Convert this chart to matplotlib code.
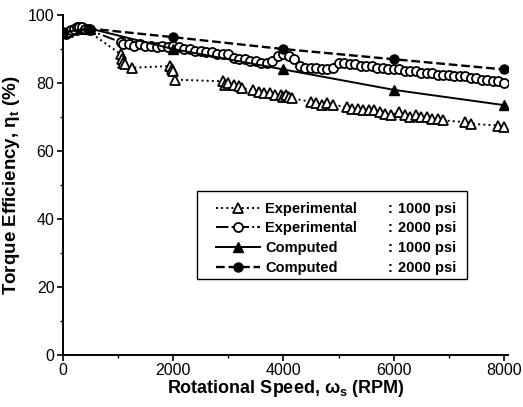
import matplotlib
matplotlib.use("Agg")
import matplotlib.pyplot as plt
import matplotlib.patches as patches
from matplotlib.ticker import MultipleLocator

plt.rcParams['font.family'] = ['Liberation Sans', 'DejaVu Sans']
plt.rcParams['mathtext.fontset'] = 'custom'
plt.rcParams['mathtext.rm'] = 'Liberation Sans'
plt.rcParams['mathtext.bf'] = 'Liberation Sans:bold'

# Experimental, 1000 psi
exp1000_rpm = [100, 200, 300, 400, 1050, 1080, 1100, 1130, 1250, 1950, 1980, 2000, 2030,
               2900, 2950, 3000, 3100, 3200, 3250, 3450, 3550, 3650, 3750, 3850, 3950,
               4000, 4050, 4100, 4150, 4500, 4600, 4700, 4800, 4900, 5150, 5250, 5350,
               5450, 5550, 5650, 5750, 5850, 5950, 6100, 6200, 6300, 6400, 6500, 6600,
               6700, 6800, 6900, 7300, 7400, 7900, 8000]
exp1000_eff = [95, 95.5, 96, 96, 88.5, 87, 86, 85.5, 84.5, 85, 84, 83.5, 81,
               80.5, 79.5, 80, 79.5, 79, 78.5, 78, 77.5, 77, 77, 76.5, 76.5,
               76, 76.5, 76, 75.5, 74.5, 74, 73.5, 74, 73.5, 73, 72.5, 72.5,
               72, 72, 72, 71.5, 71, 70.5, 71.5, 70.5, 70, 70.5, 70, 70,
               69.5, 69.5, 69, 68.5, 68, 67.5, 67]

# Experimental, 2000 psi
exp2000_rpm = [50, 100, 150, 200, 250, 300, 350, 400, 450, 500,
               1050, 1100, 1200, 1300, 1400, 1500, 1600, 1700, 1800, 1900, 2000,
               2100, 2200, 2300, 2400, 2500, 2600, 2700, 2800, 2900, 3000,
               3100, 3200, 3300, 3400, 3500, 3600, 3700, 3800, 3900, 4000,
               4100, 4200, 4300, 4400, 4500, 4600, 4700, 4800, 4900, 5000,
               5100, 5200, 5300, 5400, 5500, 5600, 5700, 5800, 5900, 6000,
               6100, 6200, 6300, 6400, 6500, 6600, 6700, 6800, 6900, 7000,
               7100, 7200, 7300, 7400, 7500, 7600, 7700, 7800, 7900, 8000]
exp2000_eff = [94.5, 95, 95.5, 96, 96.5, 96.5, 96.5, 96, 96, 95.5,
               92, 91.5, 91.5, 91, 91.5, 91, 91, 90.5, 91, 90.5, 91,
               90.5, 90, 90, 89.5, 89.5, 89, 89, 88.5, 88.5, 88.5,
               87.5, 87, 87, 86.5, 86.5, 86, 86, 86.5, 88, 88.5,
               88, 87, 85, 84.5, 84.5, 84.5, 84, 84, 84.5, 86,
               86, 85.5, 85.5, 85, 85, 85, 84.5, 84.5, 84, 84,
               84, 83.5, 83.5, 83.5, 83, 83, 83, 82.5, 82.5, 82.5,
               82, 82, 82, 81.5, 81.5, 81, 81, 80.5, 80.5, 80]

# Computed
comp_rpm = [0, 500, 2000, 4000, 6000, 8000]
comp1000_eff = [95, 96, 90, 84, 78, 73.5]
comp2000_eff = [95, 96, 93.5, 90, 87, 84]

names = ['Experimental', 'Experimental', 'Computed', 'Computed']
pressures = ['1000 psi', '2000 psi', '1000 psi', '2000 psi']

fig = plt.figure(figsize=(5.23, 4.07), dpi=100)
ax = fig.add_axes([0.12, 0.128, 0.852, 0.835])

ax.plot(exp1000_rpm, exp1000_eff, ':', color='black', lw=1.4, marker='^',
        mfc='white', mec='black', ms=7, mew=1.3, label=names[0])
ax.plot(exp2000_rpm, exp2000_eff, '-.', color='black', lw=1.4, marker='o',
        mfc='white', mec='black', ms=6.5, mew=1.3, label=names[1])
ax.plot(comp_rpm, comp1000_eff, '-', color='black', lw=1.4, marker='^',
        mfc='black', mec='black', ms=7, label=names[2])
ax.plot(comp_rpm, comp2000_eff, '--', color='black', lw=1.7, marker='o',
        mfc='black', mec='black', ms=6.5, label=names[3])

ax.set_xlim(0, 8080)
ax.set_ylim(0, 100)
ax.xaxis.set_major_locator(MultipleLocator(2000))
ax.xaxis.set_minor_locator(MultipleLocator(1000))
ax.yaxis.set_major_locator(MultipleLocator(20))
ax.yaxis.set_minor_locator(MultipleLocator(10))
ax.spines['top'].set_visible(False)
ax.spines['right'].set_visible(False)
for s in ('left', 'bottom'):
    ax.spines[s].set_linewidth(1.4)
ax.tick_params(which='major', direction='out', length=4, width=1.2, labelsize=11.5,
               pad=2)
ax.tick_params(which='minor', direction='out', length=2.5, width=1.0)

ax.set_xlabel(r'Rotational Speed, ω$_\mathbf{s}$ (RPM)', fontsize=13,
              fontweight='bold', labelpad=0)
ax.set_ylabel(r'Torque Efficiency, η$_\mathbf{t}$ (%)', fontsize=13.5,
              fontweight='bold', labelpad=4)

# legend frame drawn separately, entries without a frame
frame = patches.Rectangle((0.302, 0.224), 0.605, 0.258, transform=ax.transAxes,
                          facecolor='white', edgecolor='black', lw=1.0, zorder=5)
ax.add_patch(frame)
leg = ax.legend(loc='upper left', bbox_to_anchor=(0.345, 0.451), frameon=False,
                prop={'size': 10.5, 'weight': 'bold'}, handlelength=3.0,
                handletextpad=0.34, labelspacing=0.4, borderpad=0, borderaxespad=0)
leg.set_zorder(6)

# pressure column of the legend, aligned on the colons
fig.canvas.draw()
renderer = fig.canvas.get_renderer()
for t, p in zip(leg.get_texts(), pressures):
    bb = t.get_window_extent(renderer)
    yc = (bb.y0 + bb.y1) / 2
    xa, ya = ax.transAxes.inverted().transform((0, yc))
    ax.text(0.730, ya, ':', transform=ax.transAxes, fontsize=10.5, fontweight='bold',
            ha='left', va='center', zorder=10)
    ax.text(0.753, ya, p, transform=ax.transAxes, fontsize=10.5, fontweight='bold',
            ha='left', va='center', zorder=10)

fig.savefig('out.png', dpi=100)
